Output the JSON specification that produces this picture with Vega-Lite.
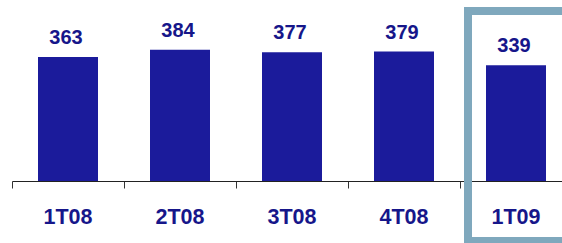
{
  "$schema": "https://vega.github.io/schema/vega-lite/v6.json",
  "width": 560,
  "height": 181,
  "autosize": {"type": "none"},
  "padding": {"left": 12, "top": 0, "right": 0, "bottom": 62},
  "background": "white",
  "config": {"view": {"stroke": null}, "font": "Liberation Sans"},
  "data": {"values": [
    {"q": "1T08", "v": 363},
    {"q": "2T08", "v": 384},
    {"q": "3T08", "v": 377},
    {"q": "4T08", "v": 379},
    {"q": "1T09", "v": 339}
  ]},
  "encoding": {
    "x": {"field": "q", "type": "nominal", "sort": null,
      "scale": {"paddingInner": 0, "paddingOuter": 0},
      "axis": {"title": null, "labelAngle": 0, "bandPosition": 0, "ticks": true, "tickSize": 7,
        "tickColor": "#333333", "domainColor": "#222222", "labelFont": "Liberation Sans",
        "labelFontSize": 21.5, "labelFontWeight": "bold", "labelColor": "#16168a", "labelPadding": 18, "grid": false}},
    "y": {"field": "v", "type": "quantitative", "scale": {"domain": [0, 530], "nice": false}, "axis": null}
  },
  "layer": [
    {"mark": {"type": "bar", "width": 60, "color": "#1b1b9b"}},
    {"mark": {"type": "text", "baseline": "alphabetic", "dy": -13, "dx": -2, "font": "Liberation Sans", "fontSize": 20, "fontWeight": "bold", "color": "#16168a"},
      "encoding": {"text": {"field": "v", "type": "quantitative"}}},
    {"transform": [{"filter": "datum.q === '1T09'"}],
      "mark": {"type": "rect", "fill": null, "stroke": "#7fa8bd", "strokeWidth": 8, "xOffset": 8, "clip": false},
      "encoding": {"y": {"datum": 498}, "y2": {"datum": -176}}}
  ]
}
